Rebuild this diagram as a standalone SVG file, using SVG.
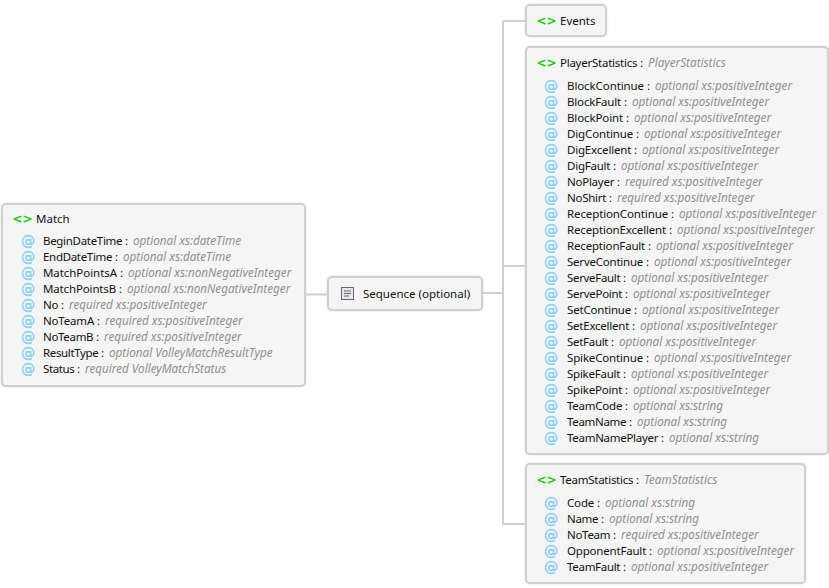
<svg xmlns="http://www.w3.org/2000/svg" width="829" height="588" viewBox="0 0 829 588">
<defs>
<style>
text{font-family:"Noto Sans","Open Sans",sans-serif;font-size:11.5px;fill:#111}
.t{font-style:italic;fill:#8f8f8f;font-size:11.7px}
.box{fill:#f5f5f5;stroke:#d0d0d0;stroke-width:2;filter:drop-shadow(0 0 1px #dcdcdc)}
.at{font-family:"DejaVu Sans",sans-serif;font-size:14px;fill:#80ccff;stroke:#80ccff;stroke-width:.3px}
.el{font-family:"DejaVu Sans",sans-serif;font-size:12px;font-weight:bold;fill:#22cc11}
.conn{fill:none;stroke:#cfcfcf;stroke-width:2}
</style>
</defs>
<rect width="829" height="588" fill="#fff"/>
<g id="connectors">
<path class="conn" d="M305 294.500H328M482 293H503M503 21H526M503 21V524H526M503 266H526"/>
</g>
<g id="match">
<rect class="box" x="2" y="204" width="303" height="182" rx="4"/>
<text class="el" x="12.500" y="223">&lt;&gt;</text><text x="36" y="223">Match</text>
<text class="at" x="21" y="245.500">@</text><text x="43" y="245" textLength="85">BeginDateTime :</text><text class="t" x="133" y="245">optional xs:dateTime</text>
<text class="at" x="21" y="261.500">@</text><text x="43" y="261" textLength="75">EndDateTime :</text><text class="t" x="123" y="261">optional xs:dateTime</text>
<text class="at" x="21" y="277.500">@</text><text x="43" y="277" textLength="80">MatchPointsA :</text><text class="t" x="128" y="277">optional xs:nonNegativeInteger</text>
<text class="at" x="21" y="293.500">@</text><text x="43" y="293" textLength="79">MatchPointsB :</text><text class="t" x="127" y="293">optional xs:nonNegativeInteger</text>
<text class="at" x="21" y="309.500">@</text><text x="43" y="309" textLength="21">No :</text><text class="t" x="69" y="309">required xs:positiveInteger</text>
<text class="at" x="21" y="325.500">@</text><text x="43" y="325" textLength="57">NoTeamA :</text><text class="t" x="105" y="325">required xs:positiveInteger</text>
<text class="at" x="21" y="341.500">@</text><text x="43" y="341" textLength="56">NoTeamB :</text><text class="t" x="104" y="341">required xs:positiveInteger</text>
<text class="at" x="21" y="357.500">@</text><text x="43" y="357" textLength="61">ResultType :</text><text class="t" x="109" y="357">optional VolleyMatchResultType</text>
<text class="at" x="21" y="373.500">@</text><text x="43" y="373" textLength="37">Status :</text><text class="t" x="85" y="373">required VolleyMatchStatus</text>
</g>
<g id="sequence">
<rect class="box" x="328" y="277" width="154" height="33" rx="4"/>
<rect x="341.500" y="287.500" width="12" height="12" fill="#e8e8ee" stroke="#66667a"/>
<path d="M344 291H351M344 293.500H351M344 296H349" stroke="#66667a" fill="none"/>
<text x="363" y="298">Sequence (optional)</text>
</g>
<g id="events">
<rect class="box" x="526" y="5" width="80" height="31" rx="4"/>
<text class="el" x="536.500" y="25">&lt;&gt;</text><text x="560" y="25">Events</text>
</g>
<g id="playerstatistics">
<rect class="box" x="526" y="47" width="302" height="407" rx="4"/>
<text class="el" x="536.500" y="67">&lt;&gt;</text><text x="560" y="67" textLength="83">PlayerStatistics :</text><text class="t" x="648" y="67">PlayerStatistics</text>
<text class="at" x="544" y="90.500">@</text><text x="567" y="90" textLength="83">BlockContinue :</text><text class="t" x="655" y="90">optional xs:positiveInteger</text>
<text class="at" x="544" y="106.500">@</text><text x="567" y="106" textLength="60">BlockFault :</text><text class="t" x="632" y="106">optional xs:positiveInteger</text>
<text class="at" x="544" y="122.500">@</text><text x="567" y="122" textLength="62">BlockPoint :</text><text class="t" x="634" y="122">optional xs:positiveInteger</text>
<text class="at" x="544" y="138.500">@</text><text x="567" y="138" textLength="72">DigContinue :</text><text class="t" x="644" y="138">optional xs:positiveInteger</text>
<text class="at" x="544" y="154.500">@</text><text x="567" y="154" textLength="70">DigExcellent :</text><text class="t" x="642" y="154">optional xs:positiveInteger</text>
<text class="at" x="544" y="170.500">@</text><text x="567" y="170" textLength="49">DigFault :</text><text class="t" x="621" y="170">optional xs:positiveInteger</text>
<text class="at" x="544" y="186.500">@</text><text x="567" y="186" textLength="53">NoPlayer :</text><text class="t" x="625" y="186">required xs:positiveInteger</text>
<text class="at" x="544" y="202.500">@</text><text x="567" y="202" textLength="45">NoShirt :</text><text class="t" x="617" y="202">required xs:positiveInteger</text>
<text class="at" x="544" y="218.500">@</text><text x="567" y="218" textLength="107">ReceptionContinue :</text><text class="t" x="679" y="218">optional xs:positiveInteger</text>
<text class="at" x="544" y="234.500">@</text><text x="567" y="234" textLength="105">ReceptionExcellent :</text><text class="t" x="677" y="234">optional xs:positiveInteger</text>
<text class="at" x="544" y="250.500">@</text><text x="567" y="250" textLength="84">ReceptionFault :</text><text class="t" x="656" y="250">optional xs:positiveInteger</text>
<text class="at" x="544" y="266.500">@</text><text x="567" y="266" textLength="82">ServeContinue :</text><text class="t" x="654" y="266">optional xs:positiveInteger</text>
<text class="at" x="544" y="282.500">@</text><text x="567" y="282" textLength="59">ServeFault :</text><text class="t" x="631" y="282">optional xs:positiveInteger</text>
<text class="at" x="544" y="298.500">@</text><text x="567" y="298" textLength="61">ServePoint :</text><text class="t" x="633" y="298">optional xs:positiveInteger</text>
<text class="at" x="544" y="314.500">@</text><text x="567" y="314" textLength="70">SetContinue :</text><text class="t" x="642" y="314">optional xs:positiveInteger</text>
<text class="at" x="544" y="330.500">@</text><text x="567" y="330" textLength="68">SetExcellent :</text><text class="t" x="640" y="330">optional xs:positiveInteger</text>
<text class="at" x="544" y="346.500">@</text><text x="567" y="346" textLength="47">SetFault :</text><text class="t" x="619" y="346">optional xs:positiveInteger</text>
<text class="at" x="544" y="362.500">@</text><text x="567" y="362" textLength="82">SpikeContinue :</text><text class="t" x="654" y="362">optional xs:positiveInteger</text>
<text class="at" x="544" y="378.500">@</text><text x="567" y="378" textLength="59">SpikeFault :</text><text class="t" x="631" y="378">optional xs:positiveInteger</text>
<text class="at" x="544" y="394.500">@</text><text x="567" y="394" textLength="61">SpikePoint :</text><text class="t" x="633" y="394">optional xs:positiveInteger</text>
<text class="at" x="544" y="410.500">@</text><text x="567" y="410" textLength="61">TeamCode :</text><text class="t" x="633" y="410">optional xs:string</text>
<text class="at" x="544" y="426.500">@</text><text x="567" y="426" textLength="65">TeamName :</text><text class="t" x="637" y="426">optional xs:string</text>
<text class="at" x="544" y="442.500">@</text><text x="567" y="442" textLength="97">TeamNamePlayer :</text><text class="t" x="669" y="442">optional xs:string</text>
</g>
<g id="teamstatistics">
<rect class="box" x="526" y="464" width="279" height="119" rx="4"/>
<text class="el" x="536.500" y="484">&lt;&gt;</text><text x="560" y="484" textLength="79">TeamStatistics :</text><text class="t" x="644" y="484">TeamStatistics</text>
<text class="at" x="544" y="507.500">@</text><text x="567" y="507" textLength="33">Code :</text><text class="t" x="605" y="507">optional xs:string</text>
<text class="at" x="544" y="523.500">@</text><text x="567" y="523" textLength="37">Name :</text><text class="t" x="609" y="523">optional xs:string</text>
<text class="at" x="544" y="539.500">@</text><text x="567" y="539" textLength="49">NoTeam :</text><text class="t" x="621" y="539">required xs:positiveInteger</text>
<text class="at" x="544" y="555.500">@</text><text x="567" y="555" textLength="85">OpponentFault :</text><text class="t" x="657" y="555">optional xs:positiveInteger</text>
<text class="at" x="544" y="571.500">@</text><text x="567" y="571" textLength="59">TeamFault :</text><text class="t" x="631" y="571">optional xs:positiveInteger</text>
</g>
</svg>
